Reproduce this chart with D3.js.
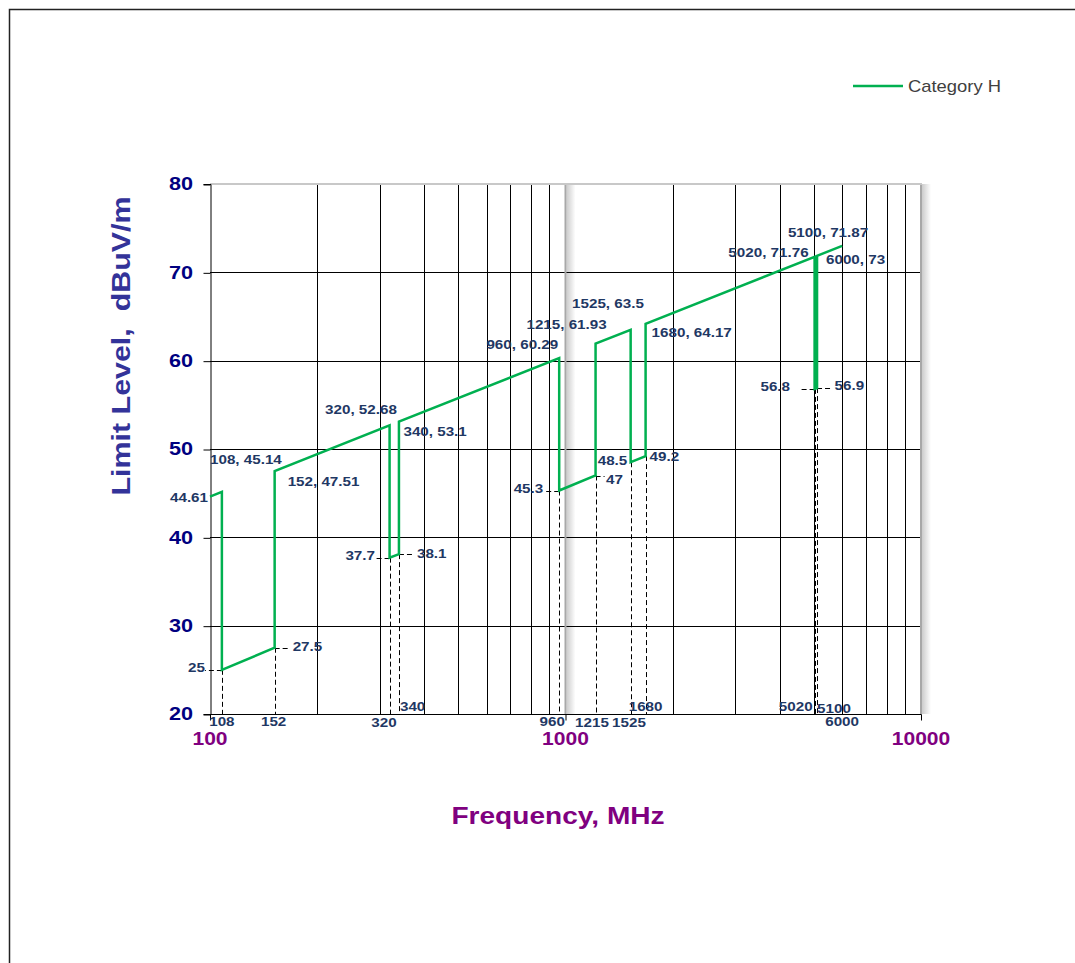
<!DOCTYPE html>
<html>
<head>
<meta charset="utf-8">
<script src="https://cdn.jsdelivr.net/npm/d3@7"></script>
<style>
  html, body { margin: 0; padding: 0; background: #fff; }
  svg { display: block; }
  .lbl { font-family: "Liberation Sans", Arial, sans-serif; white-space: pre; }
</style>
</head>
<body>
<svg id="chart" width="1075" height="963"></svg>
<script>
// Category H limit line: frequency (MHz) and limit level (dBuV/m) at each vertex
const freqs  = [100, 108, 108, 152, 152, 320, 320, 340, 340, 960, 960, 1215, 1215, 1525, 1525, 1680, 1680, 5020, 5020, 5100, 5100, 6000];
const levels = [44.61, 45.14, 25, 27.5, 47.51, 52.68, 37.7, 38.1, 53.1, 60.29, 45.3, 47, 61.93, 63.5, 48.5, 49.2, 64.17, 71.76, 56.8, 56.9, 71.87, 73];

// Which vertices carry a label and how it reads: "v" = level only, "fv" = "freq, level"
const labelKinds = ["v", "fv", "v", "v", "fv", "fv", "v", "v", "fv", "fv", "v", "v", "fv", "fv", "v", "v", "fv", "fv", "v", "v", "fv", "fv"];

// Vertices dropped to the frequency axis with a dashed marker line
const dropIndex = [2, 3, 6, 7, 10, 11, 14, 15, 18, 19];
// Frequencies annotated along the bottom axis
const axisFreqIndex = [2, 3, 6, 7, 10, 11, 14, 15, 18, 19, 21];

const xTicks = [100, 1000, 10000];
const yTicks = [20, 30, 40, 50, 60, 70, 80];
const seriesName = "Category H";

// ---- layout / style ----
const GREEN = "#00B050";
const LABEL = "#1F3864";
const SX = 1.17; // horizontal text stretch

// label placement relative to the vertex: [anchor, dx, dy]
const labelPlace = [
  ["end", -2, 1], ["middle", 24, -32], ["end", -17, -2], ["start", 18, -1.5],
  ["start", 13, 10.7], ["middle", -28.6, -15.4], ["end", -14.6, -2], ["start", 18, -1],
  ["start", 4.5, 10.2], ["end", -1, -14], ["end", -16, -1.6], ["start", 10.5, 3.7],
  ["middle", -29, -18.8], ["middle", -22.7, -26], ["end", -3.4, -1.6], ["start", 4, 0.5],
  ["start", 6, 8.7], ["end", -6, -4.7], ["end", -24.6, -2.3], ["start", 17.5, -3],
  ["middle", 11, -23.7], ["middle", 13.4, 14]
];
// short horizontal leader dashes from the vertex toward its label (pixels, signed)
const leaderLen = {2: -17, 3: 15, 6: -14, 7: 16, 10: -16, 11: 9, 18: -15, 19: 16};
// bottom-axis frequency label placement: [anchor, dx, dy from axis line]
const axisPlace = {
  2: ["middle", 0, 7.5], 3: ["middle", -1, 7.5], 6: ["middle", -5.6, 8], 7: ["start", 1, -7.3],
  10: ["middle", -7, 7.5], 11: ["middle", -3.6, 8.5], 14: ["middle", -1.7, 8.5], 15: ["middle", 0, -8],
  18: ["end", -2, -7.3], 19: ["start", 0, -6], 21: ["middle", 0, 7.5]
};

const svg = d3.select("#chart");
const plot = {left: 210, right: 921, top: 184, bottom: 714};

const x = d3.scaleLog().domain([100, 10000]).range([plot.left, plot.right]);
const y = d3.scaleLinear().domain([20, 80]).range([plot.bottom, plot.top]);
const px = v => Math.round(v) + 0.5;

function text(parent, tx, ty, str, opts) {
  const g = parent.append("g").attr("transform", `translate(${tx},${ty})`);
  const t = g.append("text")
    .attr("class", "lbl")
    .attr("transform", `scale(${opts.sx || SX},1)`)
    .attr("text-anchor", opts.anchor || "middle")
    .attr("dy", "0.35em")
    .attr("font-size", opts.size)
    .attr("font-weight", opts.weight || "bold")
    .attr("fill", opts.color)
    .text(str);
  if (opts.rotate) g.attr("transform", `translate(${tx},${ty}) rotate(${opts.rotate})`);
  return t;
}

// outer chart frame
svg.append("rect").attr("x", 9.5).attr("y", 9.5).attr("width", 1200).attr("height", 1200)
  .attr("fill", "none").attr("stroke", "#222").attr("stroke-width", 1.5);

// soft shadow gradient used by the panel edges
const defs = svg.append("defs");
const grad = defs.append("linearGradient").attr("id", "shade").attr("x1", 0).attr("x2", 1).attr("y1", 0).attr("y2", 0);
grad.append("stop").attr("offset", 0).attr("stop-color", "#000").attr("stop-opacity", 0.2);
grad.append("stop").attr("offset", 1).attr("stop-color", "#000").attr("stop-opacity", 0);

// gridlines
const grid = svg.append("g");
const minor = [];
[100, 1000].forEach(dec => { for (let k = 2; k <= 9; k++) minor.push(dec * k); });
grid.selectAll("line.v").data(minor).join("line")
  .attr("x1", d => px(x(d))).attr("x2", d => px(x(d)))
  .attr("y1", plot.top).attr("y2", plot.bottom)
  .attr("stroke", "#000").attr("stroke-width", 1);
grid.selectAll("line.h").data(yTicks.filter(d => d > 20 && d < 80)).join("line")
  .attr("x1", plot.left).attr("x2", plot.right)
  .attr("y1", d => px(y(d))).attr("y2", d => px(y(d)))
  .attr("stroke", "#000").attr("stroke-width", 1);

// panel edges at 1000 and 10000 with soft shadows, light top edge
[1000, 10000].forEach(d => {
  svg.append("rect").attr("x", x(d) + 1).attr("y", plot.top).attr("width", 9)
    .attr("height", plot.bottom - plot.top).attr("fill", "url(#shade)");
  svg.append("line").attr("x1", x(d)).attr("x2", x(d)).attr("y1", plot.top).attr("y2", plot.bottom)
    .attr("stroke", "#a8a8a8").attr("stroke-width", 2);
});
svg.append("line").attr("x1", plot.left).attr("x2", plot.right + 1)
  .attr("y1", plot.top).attr("y2", plot.top).attr("stroke", "#c8c8c8").attr("stroke-width", 2);

// axes
const yAxis = d3.axisLeft(y).tickValues(yTicks).tickSize(7).tickFormat("");
svg.append("g").attr("transform", `translate(${plot.left + 0.5},0)`).call(yAxis)
  .call(g => g.select(".domain").attr("stroke", "#000"))
  .call(g => g.selectAll(".tick line").attr("stroke", "#000").attr("transform", "translate(0,0.5)"));
const xAxis = d3.axisBottom(x).tickValues(xTicks).tickSize(6).tickFormat("");
svg.append("g").attr("transform", `translate(0,${plot.bottom + 0.5})`).call(xAxis)
  .call(g => g.select(".domain").attr("stroke", "#000").attr("d", `M${plot.left},0H${plot.right + 0.5}`))
  .call(g => g.selectAll(".tick line").attr("stroke", "#000"));

yTicks.forEach(v => text(svg, 193, y(v), String(v), {anchor: "end", size: 18.5, color: "#000080"}));
xTicks.forEach(v => text(svg, x(v), 739, String(v), {anchor: "middle", size: 18, color: "#800080"}));

// axis titles
text(svg, 558, 816, "Frequency, MHz", {anchor: "middle", size: 24, color: "#800080"});
text(svg, 121, 346, "Limit Level,  dBuV/m", {anchor: "middle", size: 26, color: "#333399", rotate: -90, sx: 1.17});

// dashed marker lines
const marks = svg.append("g").attr("stroke", "#000").attr("stroke-width", 1).attr("stroke-dasharray", "5,3");
dropIndex.forEach(i => {
  marks.append("line")
    .attr("x1", px(x(freqs[i]))).attr("x2", px(x(freqs[i])))
    .attr("y1", y(levels[i])).attr("y2", plot.bottom);
});
Object.keys(leaderLen).forEach(k => {
  const i = +k;
  marks.append("line")
    .attr("x1", x(freqs[i])).attr("x2", x(freqs[i]) + leaderLen[i])
    .attr("y1", px(y(levels[i]))).attr("y2", px(y(levels[i])));
});

// limit line
const pts = freqs.map((f, i) => [f, levels[i]]);
svg.append("path").datum(pts)
  .attr("fill", "none").attr("stroke", GREEN).attr("stroke-width", 2.5)
  .attr("stroke-linejoin", "miter")
  .attr("d", d3.line().x(d => x(d[0])).y(d => y(d[1])));

// vertex labels
pts.forEach((p, i) => {
  const kind = labelKinds[i];
  if (!kind) return;
  const str = kind === "fv" ? `${p[0]}, ${p[1]}` : String(p[1]);
  const [anchor, dx, dy] = labelPlace[i];
  text(svg, x(p[0]) + dx, y(p[1]) + dy, str, {anchor, size: 13, color: LABEL});
});

// frequency annotations along the bottom axis
axisFreqIndex.forEach(i => {
  const [anchor, dx, dy] = axisPlace[i];
  text(svg, x(freqs[i]) + dx, plot.bottom + dy, String(freqs[i]), {anchor, size: 13, color: LABEL});
});

// legend
svg.append("line").attr("x1", 853).attr("x2", 903).attr("y1", 86).attr("y2", 86)
  .attr("stroke", GREEN).attr("stroke-width", 2.5);
text(svg, 908, 86, seriesName, {anchor: "start", size: 16, color: "#404040", weight: "normal", sx: 1.15});
</script>
</body>
</html>
